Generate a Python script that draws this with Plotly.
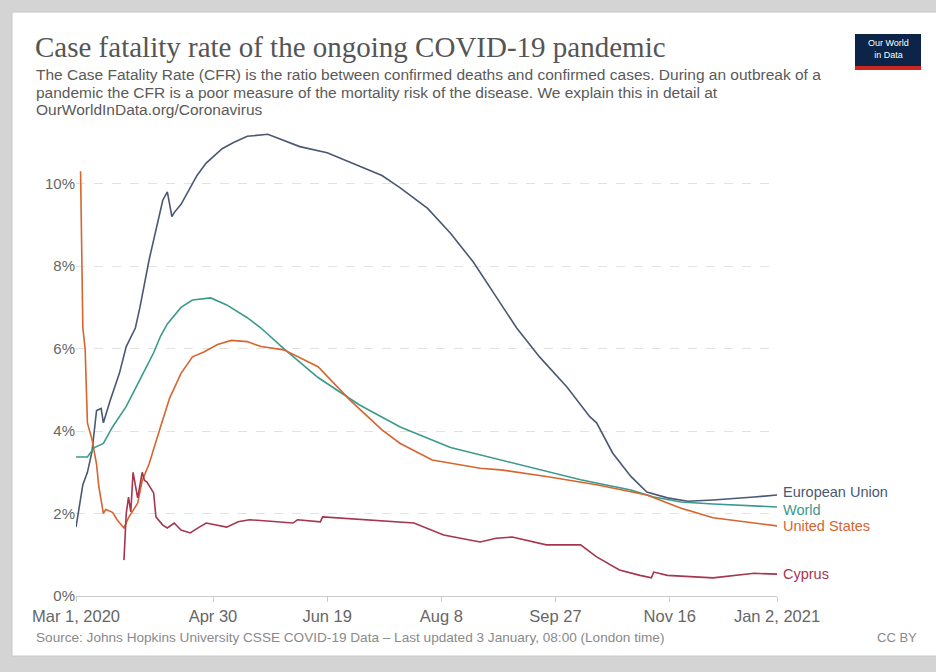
import pandas as pd
import plotly.graph_objects as go

START = "2020-03-01"

# Day offsets from Mar 1, 2020 and CFR values (%)
eu_day = [0, 3, 5, 7, 9, 11, 12, 15, 19, 22, 26, 28, 32, 35, 38, 40, 42, 43, 46, 53, 57, 64, 69, 75, 84,
          98, 110, 134, 142, 154, 164, 174, 183, 193, 203, 215, 225, 228, 235, 243, 250, 259, 268,
          279, 297, 307]
eu_val = [1.67, 2.7, 3.0, 3.5, 4.5, 4.55, 4.2, 4.75, 5.4, 6.05, 6.5, 7.0, 8.15, 8.9, 9.6, 9.8, 9.2, 9.3, 9.5,
          10.2, 10.5, 10.85, 11.0, 11.15, 11.2, 10.9, 10.75, 10.2, 9.9, 9.4, 8.8, 8.1, 7.35, 6.5, 5.8,
          5.07, 4.35, 4.2, 3.47, 2.9, 2.52, 2.38, 2.3, 2.33, 2.4, 2.45]

world_day = [0, 5, 8, 12, 16, 22, 28, 34, 37, 40, 46, 51, 59, 66, 75, 81, 91, 106, 124, 142, 164,
             177, 199, 221, 243, 253, 265, 279, 307]
world_val = [3.37, 3.37, 3.6, 3.7, 4.1, 4.6, 5.25, 5.9, 6.3, 6.6, 7.0, 7.18, 7.23, 7.06, 6.75, 6.5,
             6.0, 5.3, 4.64, 4.1, 3.6, 3.42, 3.13, 2.82, 2.57, 2.4, 2.28, 2.23, 2.16]

us_day = [2, 3, 4, 5, 7, 9, 10, 12, 13, 16, 18, 21, 23, 27, 29, 32, 37, 41, 46, 51, 56, 62, 68, 75,
          81, 91, 106, 120, 134, 142, 156, 177, 186, 206, 228, 250, 265, 279, 307]
us_val = [10.3, 6.5, 6.0, 4.2, 3.8, 3.2, 2.65, 2.0, 2.1, 2.03, 1.85, 1.65, 1.9, 2.25, 2.8, 3.2, 4.1,
          4.8, 5.4, 5.8, 5.92, 6.1, 6.2, 6.17, 6.05, 5.97, 5.56, 4.75, 4.03, 3.7, 3.3, 3.1, 3.06, 2.9,
          2.7, 2.45, 2.13, 1.9, 1.7]

cy_day = [21, 22, 23, 24, 25, 27, 29, 30, 31, 34, 35, 38, 40, 43, 46, 50, 54, 57, 66, 71, 76, 95, 97,
          107, 108, 127, 148, 161, 177, 184, 191, 206, 221, 228, 238, 247, 252, 253, 259, 279, 297, 307]
cy_val = [0.87, 2.0, 2.4, 2.04, 3.0, 2.38, 3.0, 2.8, 2.77, 2.5, 1.92, 1.72, 1.65, 1.77, 1.6, 1.53, 1.67,
          1.77, 1.67, 1.8, 1.85, 1.77, 1.85, 1.8, 1.92, 1.85, 1.77, 1.48, 1.31, 1.4, 1.43, 1.24, 1.24,
          0.95, 0.63, 0.5, 0.44, 0.58, 0.5, 0.44, 0.55, 0.53]

series_names = ["European Union", "World", "United States", "Cyprus"]
series_colors = ["#4A5873", "#3A9A8C", "#D6652F", "#A6354E"]
label_shift = [3, -3, 0, 0]

tick_dates = ["2020-03-01", "2020-04-30", "2020-06-19", "2020-08-08", "2020-09-27", "2020-11-16", "2021-01-02"]
tick_text = ["Mar 1, 2020", "Apr 30", "Jun 19", "Aug 8", "Sep 27", "Nov 16", "Jan 2, 2021"]
y_ticks = [0, 2, 4, 6, 8, 10]
y_text = ["0%", "2%", "4%", "6%", "8%", "10%"]

subtitle_lines = [
    "The Case Fatality Rate (CFR) is the ratio between confirmed deaths and confirmed cases. During an outbreak of a",
    "pandemic the CFR is a poor measure of the mortality risk of the disease. We explain this in detail at",
    "OurWorldInData.org/Coronavirus",
]

start = pd.Timestamp(START)
def to_dates(days):
    return [start + pd.Timedelta(days=d) for d in days]

all_days = [eu_day, world_day, us_day, cy_day]
all_vals = [eu_val, world_val, us_val, cy_val]

fig = go.Figure()
for name, col, d, v, sh in zip(series_names, series_colors, all_days, all_vals, label_shift):
    fig.add_trace(go.Scatter(x=to_dates(d), y=v, mode="lines", name=name,
                             line=dict(color=col, width=1.6), showlegend=False))
    fig.add_annotation(x=to_dates(d)[-1], y=v[-1], xref="x", yref="y", text=name,
                       showarrow=False, xanchor="left", xshift=4, yshift=sh,
                       font=dict(family="Liberation Sans, Arial", size=14.5, color=col))

# Plot area geometry in px (for paper conversions)
L, T, W, H = 76, 126, 701, 470
def px(x):
    return (x - L) / W
def py(y):
    return (T + H - y) / H

shapes = [
    dict(type="rect", xref="paper", yref="paper", x0=px(12), x1=px(945), y0=py(656), y1=py(12),
         fillcolor="#FFFFFF", line=dict(color="#C8C8C8", width=1), layer="below"),
    dict(type="rect", xref="paper", yref="paper", x0=px(855), x1=px(921), y0=py(70), y1=py(34),
         fillcolor="#0B2447", line=dict(width=0)),
    dict(type="rect", xref="paper", yref="paper", x0=px(855), x1=px(921), y0=py(70), y1=py(66),
         fillcolor="#CE261E", line=dict(width=0)),
]

annotations = [
    dict(xref="paper", yref="paper", x=px(33), y=py(47), xanchor="left", yanchor="middle",
         text="Case fatality rate of the ongoing COVID-19 pandemic", showarrow=False,
         font=dict(family="Liberation Serif, Times New Roman, serif", size=29, color="#555555")),
    dict(xref="paper", yref="paper", x=px(888), y=py(49), xanchor="center", yanchor="middle",
         text="Our World<br>in Data", showarrow=False,
         font=dict(family="Liberation Sans Narrow, Liberation Sans, Arial", size=9, color="#FFFFFF")),
    dict(xref="paper", yref="paper", x=px(34), y=py(637), xanchor="left", yanchor="middle",
         text="Source: Johns Hopkins University CSSE COVID-19 Data – Last updated 3 January, 08:00 (London time)",
         showarrow=False, font=dict(family="Liberation Sans, Arial", size=13.6, color="#8A8A8A")),
    dict(xref="paper", yref="paper", x=px(919), y=py(637), xanchor="right", yanchor="middle",
         text="CC BY", showarrow=False, font=dict(family="Liberation Sans, Arial", size=13, color="#8A8A8A")),
]
for i, line in enumerate(subtitle_lines):
    annotations.append(dict(xref="paper", yref="paper", x=px(34), y=py(75 + 17.5 * i), xanchor="left",
                            yanchor="middle", text=line, showarrow=False,
                            font=dict(family="Liberation Sans, Arial", size=15.5, color="#5A5A5A")))
for a in annotations:
    fig.add_annotation(**a)

fig.update_layout(
    width=936, height=672,
    margin=dict(l=L, r=936 - L - W, t=T, b=672 - T - H),
    paper_bgcolor="#D4D4D4", plot_bgcolor="rgba(0,0,0,0)",
    shapes=shapes,
    xaxis=dict(type="date", range=[pd.Timestamp("2020-03-01"), pd.Timestamp("2021-01-02")],
               tickvals=[pd.Timestamp(t) for t in tick_dates], ticktext=tick_text,
               showgrid=False, showline=True, linecolor="#CCCCCC", ticks="outside", ticklen=5,
               tickcolor="#CCCCCC", tickfont=dict(family="Liberation Sans, Arial", size=16.5, color="#666666"),
               zeroline=False),
    yaxis=dict(range=[0, 11.4], tickvals=y_ticks, ticktext=y_text, showgrid=True,
               gridcolor="#E2E2E2", griddash="dash", gridwidth=1, zeroline=False,
               tickfont=dict(family="Liberation Sans, Arial", size=15, color="#666666"),
               ticks="", showline=False),
)

fig.write_html("out.html", config={"displayModeBar": False},
               post_script="document.body.style.margin='0';")
